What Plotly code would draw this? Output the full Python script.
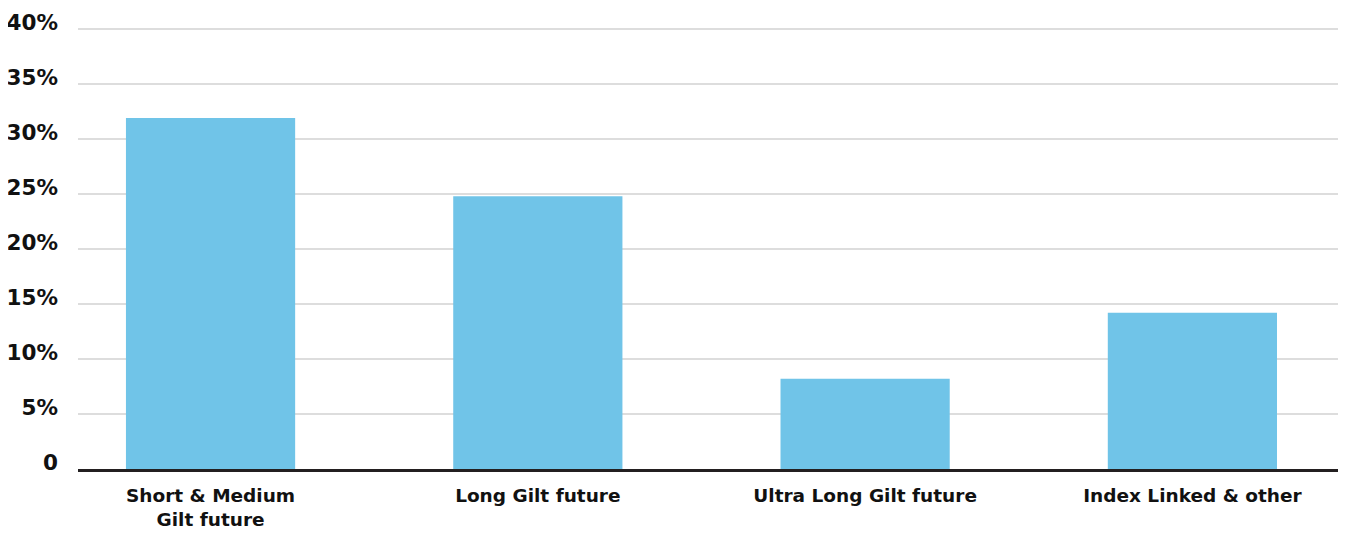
import plotly.graph_objects as go

categories = ["Short & Medium<br>Gilt future", "Long Gilt future", "Ultra Long Gilt future", "Index Linked & other"]
values = [31.9, 24.8, 8.2, 14.2]
tick_vals = [0, 5, 10, 15, 20, 25, 30, 35, 40]
tick_text = ["0", "5%", "10%", "15%", "20%", "25%", "30%", "35%", "40%"]

FONT = "DejaVu Sans"

fig = go.Figure(
    go.Bar(
        x=list(range(len(categories))),
        y=values,
        marker=dict(color="#70c4e8", line=dict(width=0)),
        width=0.517,
        hoverinfo="skip",
    )
)

# page body adds an 8px offset, so the figure is 1338x525
fig.update_layout(
    width=1338,
    height=525,
    margin=dict(l=70, r=6, t=19, b=64, autoexpand=False),
    paper_bgcolor="white",
    plot_bgcolor="white",
    showlegend=False,
    font=dict(family=FONT, size=18.5, color="#111111", weight="bold"),
)

fig.update_xaxes(
    tickvals=list(range(len(categories))),
    ticktext=categories,
    range=[-0.405, 3.451],
    automargin=False,
    showgrid=False,
    zeroline=False,
    showline=True,
    linecolor="#231f20",
    linewidth=3,
    ticks="",
    ticklabelstandoff=8,
    tickfont=dict(family=FONT, size=18.5, color="#111111", weight="bold"),
)

fig.update_yaxes(
    range=[0, 40.18],
    tickvals=tick_vals,
    ticktext=tick_text,
    automargin=False,
    showgrid=True,
    gridcolor="#dddddd",
    gridwidth=1.5,
    zeroline=False,
    showline=False,
    ticks="",
    ticklabelstandoff=19,
    ticklabelshift=-7,
    tickfont=dict(family=FONT, size=21.5, color="#111111", weight="bold"),
)

fig.write_html("out.html")
